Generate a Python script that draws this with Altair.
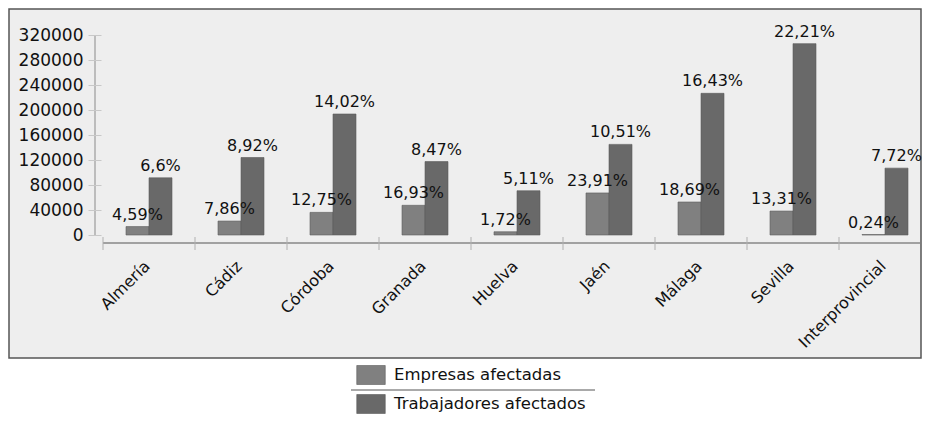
import altair as alt
import pandas as pd

provinces = ["Almería", "Cádiz", "Córdoba", "Granada", "Huelva", "Jaén",
             "Málaga", "Sevilla", "Interprovincial"]
series = ["Empresas afectadas", "Trabajadores afectados"]
empresas = [13500, 22300, 36200, 47500, 5200, 67300, 52800, 38300, 700]
trabajadores = [91500, 124000, 193600, 117500, 70800, 145000, 226700, 306200, 107000]
emp_pct = ["4,59%", "7,86%", "12,75%", "16,93%", "1,72%", "23,91%", "18,69%", "13,31%", "0,24%"]
trab_pct = ["6,6%", "8,92%", "14,02%", "8,47%", "5,11%", "10,51%", "16,43%", "22,21%", "7,72%"]
y_ticks = [0, 40000, 80000, 120000, 160000, 200000, 240000, 280000, 320000]

rows = []
for p, e, t, ep, tp in zip(provinces, empresas, trabajadores, emp_pct, trab_pct):
    rows.append({"prov": p, "serie": series[0], "valor": e, "pct": ep})
    rows.append({"prov": p, "serie": series[1], "valor": t, "pct": tp})
df = pd.DataFrame(rows)
prov_df = pd.DataFrame({"prov": provinces})

FONT = "DejaVu Sans"
W, H = 817, 200

xscale = alt.Scale(domain=provinces, range=[0, 828], paddingInner=0, paddingOuter=0)
yscale = alt.Scale(domain=[0, 320000], nice=False)
xoff = alt.XOffset("serie:N", scale=alt.Scale(domain=series, paddingInner=0, paddingOuter=1))

yaxis = alt.Axis(title=None, values=y_ticks, format="d", offset=2, tickSize=13,
                 domain=False, grid=False, labelFontSize=17, labelFont=FONT,
                 labelColor="#111111", tickColor="#c8c8c8", labelPadding=5, zindex=1)

one = alt.Data(values=[{"k": 1}])

box = alt.Chart(one).mark_rect(fill="#eeeeee", stroke="#555555", strokeWidth=1.5).encode(
    x=alt.value(-94), x2=alt.value(818), y=alt.value(-26), y2=alt.value(323)
)

bars = alt.Chart(df).mark_bar(stroke="#5a5a5a", strokeWidth=0.6).encode(
    x=alt.X("prov:N", scale=xscale, sort=provinces, axis=None),
    xOffset=xoff,
    y=alt.Y("valor:Q", scale=yscale, axis=yaxis),
    color=alt.Color("serie:N", scale=alt.Scale(domain=series, range=["#808080", "#696969"]),
                    legend=alt.Legend(title=None, orient="none", legendX=258, legendY=330,
                                      symbolType="M-1.5,-1H1.5V1H-1.5Z", symbolSize=361,
                                      labelFontSize=16.5, labelFont=FONT, labelColor="#111111",
                                      labelOffset=13, rowPadding=7, labelLimit=400,
                                      symbolStrokeColor="#5a5a5a", symbolStrokeWidth=0.6)),
)

labels = alt.Chart(df).mark_text(baseline="bottom", dy=-4, fontSize=16, font=FONT,
                                 color="#111111").encode(
    x=alt.X("prov:N", scale=xscale, sort=provinces, axis=None),
    xOffset=xoff,
    y=alt.Y("valor:Q", scale=yscale, axis=yaxis),
    text="pct:N",
)

xticks = alt.Chart(prov_df).mark_rule(color="#b0b0b0", strokeWidth=1).encode(
    x=alt.X("prov:N", scale=xscale, sort=provinces, bandPosition=0, axis=None),
    y=alt.value(202), y2=alt.value(215),
)

xlabels = alt.Chart(prov_df).mark_text(angle=315, align="right", baseline="top",
                                       fontSize=16, font=FONT, color="#111111").encode(
    x=alt.X("prov:N", scale=xscale, sort=provinces, bandPosition=0.42, axis=None),
    y=alt.value(223),
    text="prov:N",
)

xdomain = alt.Chart(one).mark_rule(color="#555555", strokeWidth=1.2).encode(
    x=alt.value(0), x2=alt.value(W), y=alt.value(208)
)

ydomain = alt.Chart(one).mark_rule(color="#8a8a8a", strokeWidth=1).encode(
    x=alt.value(-8), y=alt.YDatum(0, axis=yaxis), y2=alt.datum(320000)
)

sep = alt.Chart(one).mark_rule(color="#555555", strokeWidth=1).encode(
    x=alt.value(248), x2=alt.value(492), y=alt.value(355)
)

chart = alt.layer(box, xdomain, xticks, xlabels, ydomain, bars, labels, sep).properties(
    width=W, height=H, padding=0
).configure_view(strokeWidth=0).configure(background="white")

chart.save("out.html", embed_options={"renderer": "svg", "actions": False})
